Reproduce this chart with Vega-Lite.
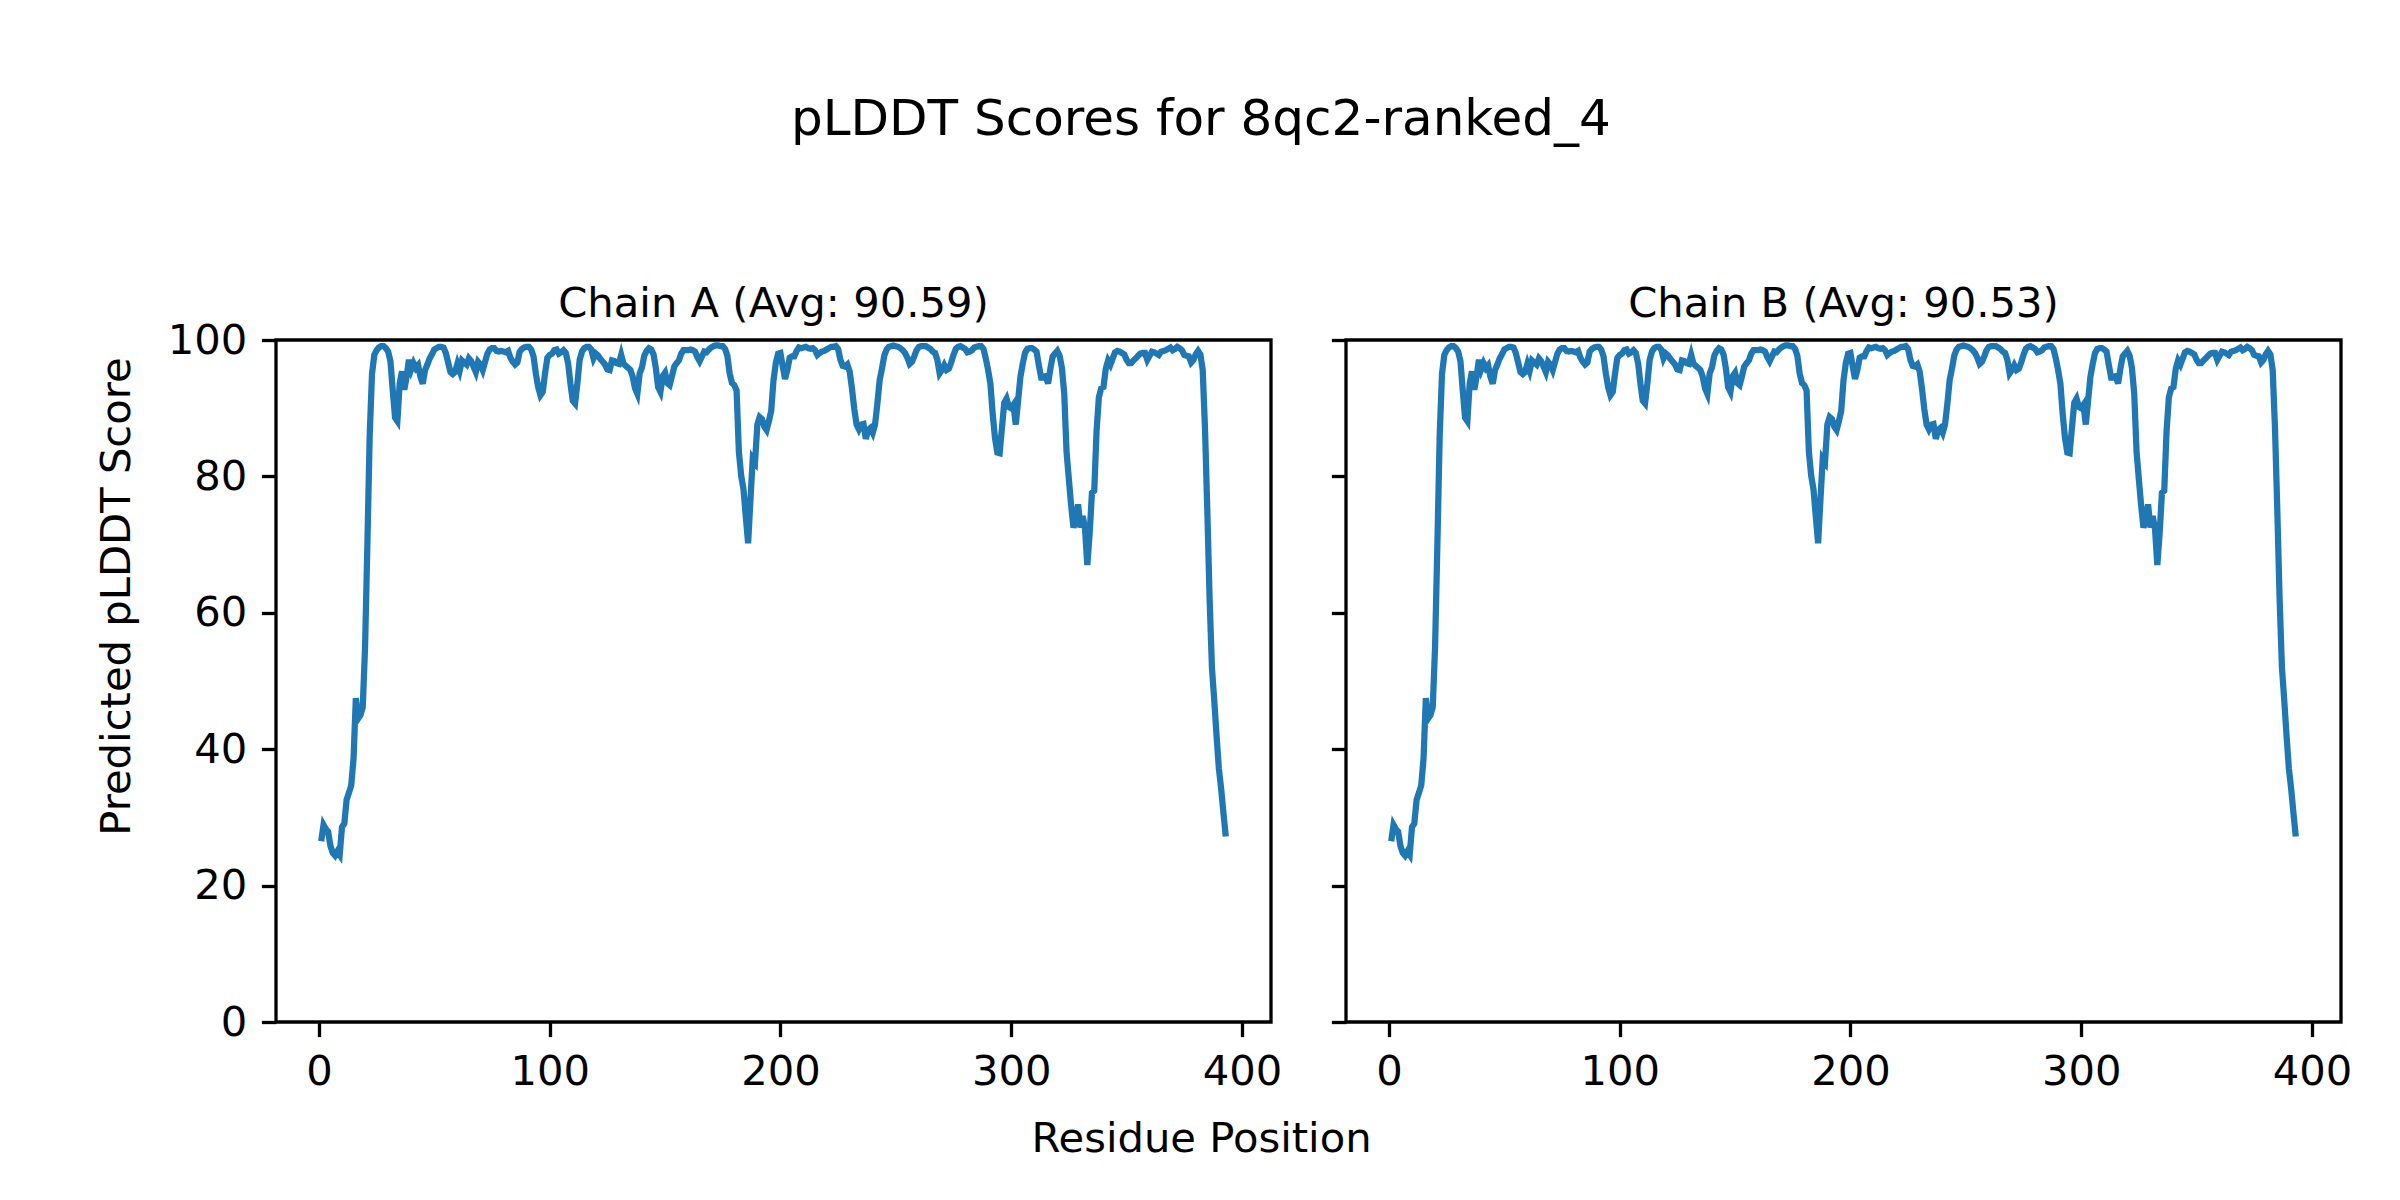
{
  "$schema": "https://vega.github.io/schema/vega-lite/v6.json",
  "description": "pLDDT scores per residue for both chains of 8qc2-ranked_4.",
  "background": "white",
  "padding": {"left": 94, "top": 95, "right": 0, "bottom": 0},
  "title": {
    "text": "pLDDT Scores for 8qc2-ranked_4",
    "fontSize": 50,
    "font": "DejaVu Sans",
    "fontWeight": "normal",
    "color": "black",
    "anchor": "middle",
    "baseline": "alphabetic",
    "offset": 97,
    "dx": -23
  },
  "spacing": 75,
  "bounds": "flush",
  "config": {
    "view": {"stroke": "black", "strokeWidth": 3.3},
    "axis": {
      "domain": false,
      "grid": false,
      "tickColor": "black",
      "tickWidth": 3.3,
      "tickSize": 14.6,
      "labelPadding": 14.6,
      "labelFont": "DejaVu Sans",
      "labelFontSize": 41.7,
      "labelColor": "black",
      "labelFlush": false,
      "labelOverlap": false,
      "titleFont": "DejaVu Sans",
      "titleFontSize": 41.7,
      "titleFontWeight": "normal",
      "titleColor": "black"
    },
    "title": {
      "font": "DejaVu Sans",
      "fontSize": 41.7,
      "fontWeight": "normal",
      "color": "black",
      "baseline": "alphabetic"
    }
  },
  "datasets": {
    "chainA": [
      {"residue": 1, "plddt": 26.5}, {"residue": 2, "plddt": 28.9}, {"residue": 3, "plddt": 28.3}, {"residue": 4, "plddt": 27.9},
      {"residue": 5, "plddt": 25.8}, {"residue": 6, "plddt": 24.8}, {"residue": 7, "plddt": 24.4}, {"residue": 8, "plddt": 25.0},
      {"residue": 9, "plddt": 24.5}, {"residue": 10, "plddt": 28.6}, {"residue": 11, "plddt": 29.1}, {"residue": 12, "plddt": 32.6},
      {"residue": 13, "plddt": 33.6}, {"residue": 14, "plddt": 34.7}, {"residue": 15, "plddt": 38.6}, {"residue": 16, "plddt": 47.5},
      {"residue": 17, "plddt": 44.5}, {"residue": 18, "plddt": 45.0}, {"residue": 19, "plddt": 46.2}, {"residue": 20, "plddt": 55.0},
      {"residue": 21, "plddt": 70.0}, {"residue": 22, "plddt": 86.0}, {"residue": 23, "plddt": 95.0}, {"residue": 24, "plddt": 97.8},
      {"residue": 25, "plddt": 98.5}, {"residue": 26, "plddt": 98.9}, {"residue": 27, "plddt": 99.1}, {"residue": 28, "plddt": 99.1},
      {"residue": 29, "plddt": 98.8}, {"residue": 30, "plddt": 98.3}, {"residue": 31, "plddt": 96.9}, {"residue": 32, "plddt": 92.6},
      {"residue": 33, "plddt": 88.6}, {"residue": 34, "plddt": 88.1}, {"residue": 35, "plddt": 93.6}, {"residue": 36, "plddt": 95.4},
      {"residue": 37, "plddt": 92.7}, {"residue": 38, "plddt": 94.6}, {"residue": 39, "plddt": 97.1}, {"residue": 40, "plddt": 95.7},
      {"residue": 41, "plddt": 96.6}, {"residue": 42, "plddt": 95.9}, {"residue": 43, "plddt": 96.3}, {"residue": 44, "plddt": 94.6},
      {"residue": 45, "plddt": 93.6}, {"residue": 46, "plddt": 95.6}, {"residue": 47, "plddt": 96.4}, {"residue": 48, "plddt": 97.3},
      {"residue": 49, "plddt": 97.9}, {"residue": 50, "plddt": 98.6}, {"residue": 51, "plddt": 98.8}, {"residue": 52, "plddt": 99.0},
      {"residue": 53, "plddt": 99.0}, {"residue": 54, "plddt": 98.9}, {"residue": 55, "plddt": 98.1}, {"residue": 56, "plddt": 96.7},
      {"residue": 57, "plddt": 95.3}, {"residue": 58, "plddt": 95.0}, {"residue": 59, "plddt": 95.3}, {"residue": 60, "plddt": 96.5},
      {"residue": 61, "plddt": 95.5}, {"residue": 62, "plddt": 97.0}, {"residue": 63, "plddt": 96.7}, {"residue": 64, "plddt": 96.4},
      {"residue": 65, "plddt": 97.3}, {"residue": 66, "plddt": 96.9}, {"residue": 67, "plddt": 96.1}, {"residue": 68, "plddt": 95.3},
      {"residue": 69, "plddt": 96.8}, {"residue": 70, "plddt": 96.4}, {"residue": 71, "plddt": 95.6}, {"residue": 72, "plddt": 96.8},
      {"residue": 73, "plddt": 98.0}, {"residue": 74, "plddt": 98.6}, {"residue": 75, "plddt": 98.8}, {"residue": 76, "plddt": 98.8},
      {"residue": 77, "plddt": 98.4}, {"residue": 78, "plddt": 98.3}, {"residue": 79, "plddt": 98.4}, {"residue": 80, "plddt": 98.3},
      {"residue": 81, "plddt": 98.2}, {"residue": 82, "plddt": 98.4}, {"residue": 83, "plddt": 97.4}, {"residue": 84, "plddt": 96.8},
      {"residue": 85, "plddt": 96.4}, {"residue": 86, "plddt": 96.7}, {"residue": 87, "plddt": 98.3}, {"residue": 88, "plddt": 98.7},
      {"residue": 89, "plddt": 98.9}, {"residue": 90, "plddt": 99.0}, {"residue": 91, "plddt": 99.0}, {"residue": 92, "plddt": 98.6},
      {"residue": 93, "plddt": 97.6}, {"residue": 94, "plddt": 95.1}, {"residue": 95, "plddt": 93.1}, {"residue": 96, "plddt": 91.9},
      {"residue": 97, "plddt": 92.4}, {"residue": 98, "plddt": 95.1}, {"residue": 99, "plddt": 97.4}, {"residue": 100, "plddt": 97.8},
      {"residue": 101, "plddt": 98.0}, {"residue": 102, "plddt": 98.5}, {"residue": 103, "plddt": 98.6}, {"residue": 104, "plddt": 98.0},
      {"residue": 105, "plddt": 98.2}, {"residue": 106, "plddt": 98.5}, {"residue": 107, "plddt": 98.1}, {"residue": 108, "plddt": 96.6},
      {"residue": 109, "plddt": 93.6}, {"residue": 110, "plddt": 91.1}, {"residue": 111, "plddt": 90.7}, {"residue": 112, "plddt": 93.6},
      {"residue": 113, "plddt": 97.1}, {"residue": 114, "plddt": 98.3}, {"residue": 115, "plddt": 98.8}, {"residue": 116, "plddt": 99.0},
      {"residue": 117, "plddt": 99.0}, {"residue": 118, "plddt": 98.6}, {"residue": 119, "plddt": 97.3}, {"residue": 120, "plddt": 98.0},
      {"residue": 121, "plddt": 97.7}, {"residue": 122, "plddt": 97.2}, {"residue": 123, "plddt": 96.8}, {"residue": 124, "plddt": 96.4},
      {"residue": 125, "plddt": 95.7}, {"residue": 126, "plddt": 95.6}, {"residue": 127, "plddt": 97.0}, {"residue": 128, "plddt": 96.9},
      {"residue": 129, "plddt": 96.6}, {"residue": 130, "plddt": 96.5}, {"residue": 131, "plddt": 97.8}, {"residue": 132, "plddt": 96.5},
      {"residue": 133, "plddt": 96.2}, {"residue": 134, "plddt": 95.9}, {"residue": 135, "plddt": 95.6}, {"residue": 136, "plddt": 94.6},
      {"residue": 137, "plddt": 92.9}, {"residue": 138, "plddt": 92.1}, {"residue": 139, "plddt": 95.1}, {"residue": 140, "plddt": 96.0},
      {"residue": 141, "plddt": 97.7}, {"residue": 142, "plddt": 98.4}, {"residue": 143, "plddt": 98.8}, {"residue": 144, "plddt": 98.6},
      {"residue": 145, "plddt": 97.9}, {"residue": 146, "plddt": 95.9}, {"residue": 147, "plddt": 93.1}, {"residue": 148, "plddt": 92.4},
      {"residue": 149, "plddt": 94.7}, {"residue": 150, "plddt": 95.2}, {"residue": 151, "plddt": 93.7}, {"residue": 152, "plddt": 93.4},
      {"residue": 153, "plddt": 94.7}, {"residue": 154, "plddt": 96.1}, {"residue": 155, "plddt": 96.6}, {"residue": 156, "plddt": 97.0},
      {"residue": 157, "plddt": 98.0}, {"residue": 158, "plddt": 98.5}, {"residue": 159, "plddt": 98.5}, {"residue": 160, "plddt": 98.5},
      {"residue": 161, "plddt": 98.6}, {"residue": 162, "plddt": 98.5}, {"residue": 163, "plddt": 98.3}, {"residue": 164, "plddt": 97.5},
      {"residue": 165, "plddt": 96.9}, {"residue": 166, "plddt": 97.6}, {"residue": 167, "plddt": 98.3}, {"residue": 168, "plddt": 98.2},
      {"residue": 169, "plddt": 98.6}, {"residue": 170, "plddt": 98.9}, {"residue": 171, "plddt": 99.1}, {"residue": 172, "plddt": 99.2},
      {"residue": 173, "plddt": 99.2}, {"residue": 174, "plddt": 99.1}, {"residue": 175, "plddt": 99.1}, {"residue": 176, "plddt": 98.7},
      {"residue": 177, "plddt": 97.7}, {"residue": 178, "plddt": 95.1}, {"residue": 179, "plddt": 93.7}, {"residue": 180, "plddt": 93.4},
      {"residue": 181, "plddt": 92.6}, {"residue": 182, "plddt": 83.6}, {"residue": 183, "plddt": 80.1}, {"residue": 184, "plddt": 78.1},
      {"residue": 185, "plddt": 74.1}, {"residue": 186, "plddt": 70.2}, {"residue": 187, "plddt": 76.5}, {"residue": 188, "plddt": 82.6},
      {"residue": 189, "plddt": 82.1}, {"residue": 190, "plddt": 87.6}, {"residue": 191, "plddt": 88.7}, {"residue": 192, "plddt": 88.4},
      {"residue": 193, "plddt": 87.3}, {"residue": 194, "plddt": 86.8}, {"residue": 195, "plddt": 88.1}, {"residue": 196, "plddt": 89.6},
      {"residue": 197, "plddt": 94.1}, {"residue": 198, "plddt": 96.6}, {"residue": 199, "plddt": 98.0}, {"residue": 200, "plddt": 98.1},
      {"residue": 201, "plddt": 96.1}, {"residue": 202, "plddt": 94.3}, {"residue": 203, "plddt": 95.6}, {"residue": 204, "plddt": 97.4},
      {"residue": 205, "plddt": 97.6}, {"residue": 206, "plddt": 97.6}, {"residue": 207, "plddt": 98.4}, {"residue": 208, "plddt": 98.9},
      {"residue": 209, "plddt": 98.8}, {"residue": 210, "plddt": 98.9}, {"residue": 211, "plddt": 99.0}, {"residue": 212, "plddt": 98.8},
      {"residue": 213, "plddt": 98.7}, {"residue": 214, "plddt": 98.8}, {"residue": 215, "plddt": 98.5}, {"residue": 216, "plddt": 97.8},
      {"residue": 217, "plddt": 98.1}, {"residue": 218, "plddt": 98.3}, {"residue": 219, "plddt": 98.4}, {"residue": 220, "plddt": 98.6},
      {"residue": 221, "plddt": 98.8}, {"residue": 222, "plddt": 99.0}, {"residue": 223, "plddt": 99.0}, {"residue": 224, "plddt": 99.1},
      {"residue": 225, "plddt": 98.7}, {"residue": 226, "plddt": 97.1}, {"residue": 227, "plddt": 96.2}, {"residue": 228, "plddt": 96.1},
      {"residue": 229, "plddt": 96.4}, {"residue": 230, "plddt": 95.4}, {"residue": 231, "plddt": 92.9}, {"residue": 232, "plddt": 89.9},
      {"residue": 233, "plddt": 87.6}, {"residue": 234, "plddt": 86.9}, {"residue": 235, "plddt": 87.6}, {"residue": 236, "plddt": 87.7},
      {"residue": 237, "plddt": 85.5}, {"residue": 238, "plddt": 86.8}, {"residue": 239, "plddt": 87.1}, {"residue": 240, "plddt": 86.4},
      {"residue": 241, "plddt": 87.6}, {"residue": 242, "plddt": 90.6}, {"residue": 243, "plddt": 94.1}, {"residue": 244, "plddt": 95.8},
      {"residue": 245, "plddt": 97.7}, {"residue": 246, "plddt": 98.6}, {"residue": 247, "plddt": 99.0}, {"residue": 248, "plddt": 99.1},
      {"residue": 249, "plddt": 99.2}, {"residue": 250, "plddt": 99.1}, {"residue": 251, "plddt": 99.0}, {"residue": 252, "plddt": 98.8},
      {"residue": 253, "plddt": 98.5}, {"residue": 254, "plddt": 98.1}, {"residue": 255, "plddt": 97.4}, {"residue": 256, "plddt": 96.5},
      {"residue": 257, "plddt": 96.8}, {"residue": 258, "plddt": 97.6}, {"residue": 259, "plddt": 98.5}, {"residue": 260, "plddt": 99.0},
      {"residue": 261, "plddt": 99.1}, {"residue": 262, "plddt": 99.1}, {"residue": 263, "plddt": 99.1}, {"residue": 264, "plddt": 98.9},
      {"residue": 265, "plddt": 98.7}, {"residue": 266, "plddt": 98.3}, {"residue": 267, "plddt": 98.1}, {"residue": 268, "plddt": 97.1},
      {"residue": 269, "plddt": 95.1}, {"residue": 270, "plddt": 95.6}, {"residue": 271, "plddt": 96.3}, {"residue": 272, "plddt": 95.6},
      {"residue": 273, "plddt": 95.8}, {"residue": 274, "plddt": 96.7}, {"residue": 275, "plddt": 97.8}, {"residue": 276, "plddt": 98.7},
      {"residue": 277, "plddt": 99.0}, {"residue": 278, "plddt": 99.1}, {"residue": 279, "plddt": 98.9}, {"residue": 280, "plddt": 98.7},
      {"residue": 281, "plddt": 98.2}, {"residue": 282, "plddt": 98.3}, {"residue": 283, "plddt": 98.5}, {"residue": 284, "plddt": 98.9},
      {"residue": 285, "plddt": 99.0}, {"residue": 286, "plddt": 99.1}, {"residue": 287, "plddt": 99.1}, {"residue": 288, "plddt": 98.7},
      {"residue": 289, "plddt": 97.3}, {"residue": 290, "plddt": 95.6}, {"residue": 291, "plddt": 93.6}, {"residue": 292, "plddt": 89.1},
      {"residue": 293, "plddt": 85.6}, {"residue": 294, "plddt": 83.5}, {"residue": 295, "plddt": 83.4}, {"residue": 296, "plddt": 87.1},
      {"residue": 297, "plddt": 90.8}, {"residue": 298, "plddt": 91.4}, {"residue": 299, "plddt": 90.2}, {"residue": 300, "plddt": 90.0},
      {"residue": 301, "plddt": 90.5}, {"residue": 302, "plddt": 87.6}, {"residue": 303, "plddt": 91.1}, {"residue": 304, "plddt": 94.6},
      {"residue": 305, "plddt": 96.5}, {"residue": 306, "plddt": 98.1}, {"residue": 307, "plddt": 98.7}, {"residue": 308, "plddt": 98.8},
      {"residue": 309, "plddt": 98.8}, {"residue": 310, "plddt": 98.6}, {"residue": 311, "plddt": 98.3}, {"residue": 312, "plddt": 96.3},
      {"residue": 313, "plddt": 94.5}, {"residue": 314, "plddt": 94.5}, {"residue": 315, "plddt": 94.7}, {"residue": 316, "plddt": 93.6},
      {"residue": 317, "plddt": 95.8}, {"residue": 318, "plddt": 97.6}, {"residue": 319, "plddt": 98.0}, {"residue": 320, "plddt": 98.4},
      {"residue": 321, "plddt": 97.7}, {"residue": 322, "plddt": 95.9}, {"residue": 323, "plddt": 92.1}, {"residue": 324, "plddt": 83.6},
      {"residue": 325, "plddt": 79.6}, {"residue": 326, "plddt": 75.7}, {"residue": 327, "plddt": 72.5}, {"residue": 328, "plddt": 73.7},
      {"residue": 329, "plddt": 75.9}, {"residue": 330, "plddt": 72.5}, {"residue": 331, "plddt": 74.2}, {"residue": 332, "plddt": 72.3},
      {"residue": 333, "plddt": 67.0}, {"residue": 334, "plddt": 71.6}, {"residue": 335, "plddt": 77.6}, {"residue": 336, "plddt": 77.9},
      {"residue": 337, "plddt": 86.6}, {"residue": 338, "plddt": 91.6}, {"residue": 339, "plddt": 92.9}, {"residue": 340, "plddt": 93.1},
      {"residue": 341, "plddt": 95.8}, {"residue": 342, "plddt": 97.0}, {"residue": 343, "plddt": 96.4}, {"residue": 344, "plddt": 97.3},
      {"residue": 345, "plddt": 98.2}, {"residue": 346, "plddt": 98.4}, {"residue": 347, "plddt": 98.3}, {"residue": 348, "plddt": 98.1},
      {"residue": 349, "plddt": 97.9}, {"residue": 350, "plddt": 97.1}, {"residue": 351, "plddt": 96.6}, {"residue": 352, "plddt": 96.6},
      {"residue": 353, "plddt": 97.0}, {"residue": 354, "plddt": 97.3}, {"residue": 355, "plddt": 97.7}, {"residue": 356, "plddt": 98.0},
      {"residue": 357, "plddt": 98.1}, {"residue": 358, "plddt": 98.1}, {"residue": 359, "plddt": 97.1}, {"residue": 360, "plddt": 97.7},
      {"residue": 361, "plddt": 98.3}, {"residue": 362, "plddt": 98.2}, {"residue": 363, "plddt": 98.0}, {"residue": 364, "plddt": 97.8},
      {"residue": 365, "plddt": 98.3}, {"residue": 366, "plddt": 98.4}, {"residue": 367, "plddt": 98.5}, {"residue": 368, "plddt": 98.7},
      {"residue": 369, "plddt": 98.9}, {"residue": 370, "plddt": 98.5}, {"residue": 371, "plddt": 98.7}, {"residue": 372, "plddt": 99.0},
      {"residue": 373, "plddt": 98.8}, {"residue": 374, "plddt": 98.5}, {"residue": 375, "plddt": 97.8}, {"residue": 376, "plddt": 97.7},
      {"residue": 377, "plddt": 97.6}, {"residue": 378, "plddt": 96.7}, {"residue": 379, "plddt": 97.1}, {"residue": 380, "plddt": 97.9},
      {"residue": 381, "plddt": 98.4}, {"residue": 382, "plddt": 97.9}, {"residue": 383, "plddt": 95.6}, {"residue": 384, "plddt": 87.0},
      {"residue": 385, "plddt": 75.0}, {"residue": 386, "plddt": 62.0}, {"residue": 387, "plddt": 52.0}, {"residue": 388, "plddt": 47.2},
      {"residue": 389, "plddt": 42.0}, {"residue": 390, "plddt": 37.2}, {"residue": 391, "plddt": 34.2}, {"residue": 392, "plddt": 30.6},
      {"residue": 393, "plddt": 27.2}
    ]
  },
  "hconcat": [
    {
      "width": 995,
      "height": 682,
      "title": {"text": "Chain A (Avg: 90.59)", "offset": -5.6},
      "data": {"name": "chainA"},
      "mark": {"type": "line", "color": "#1f77b4", "strokeWidth": 6.25, "clip": true},
      "encoding": {
        "x": {
          "field": "residue",
          "type": "quantitative",
          "scale": {"domain": [-18.6, 412.6], "nice": false, "zero": false},
          "axis": {
            "values": [0, 100, 200, 300, 400],
            "title": "Residue Position",
            "titleX": 925,
            "titleY": 129,
            "titleAlign": "center",
            "titleBaseline": "alphabetic"
          }
        },
        "y": {
          "field": "plddt",
          "type": "quantitative",
          "scale": {"domain": [0, 100], "nice": false},
          "axis": {
            "values": [0, 20, 40, 60, 80, 100],
            "title": "Predicted pLDDT Score",
            "titleX": -147,
            "titleY": 256,
            "titleAngle": -90,
            "titleAlign": "center",
            "titleBaseline": "alphabetic"
          }
        }
      }
    },
    {
      "width": 995,
      "height": 682,
      "title": {"text": "Chain B (Avg: 90.53)", "offset": 12.8},
      "data": {"name": "chainA"},
      "mark": {"type": "line", "color": "#1f77b4", "strokeWidth": 6.25, "clip": true},
      "encoding": {
        "x": {
          "field": "residue",
          "type": "quantitative",
          "scale": {"domain": [-18.6, 412.6], "nice": false, "zero": false},
          "axis": {"values": [0, 100, 200, 300, 400], "title": null}
        },
        "y": {
          "field": "plddt",
          "type": "quantitative",
          "scale": {"domain": [0, 100], "nice": false},
          "axis": {"values": [0, 20, 40, 60, 80, 100], "labels": false, "title": null}
        }
      }
    }
  ]
}
